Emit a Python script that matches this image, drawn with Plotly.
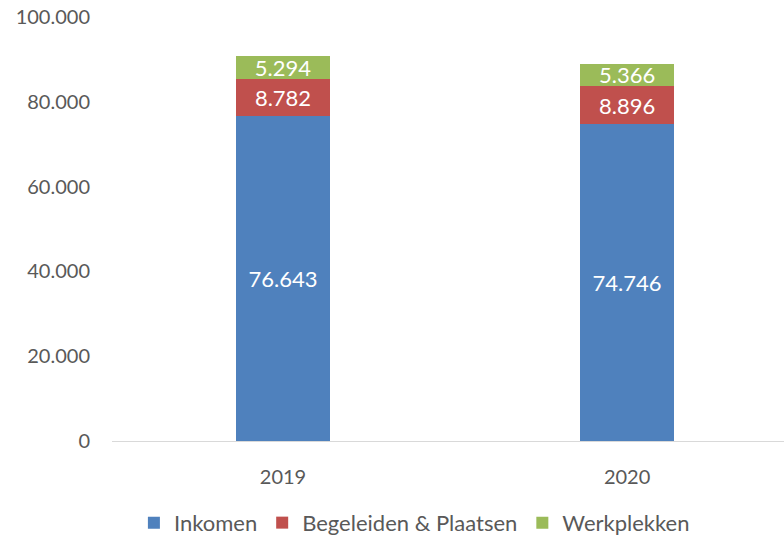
import plotly.graph_objects as go

years = ["2019", "2020"]
inkomen = [76643, 74746]
begeleiden = [8782, 8896]
werkplekken = [5294, 5366]

series = [
    ("Inkomen", inkomen, "#4F81BD"),
    ("Begeleiden & Plaatsen", begeleiden, "#C0504D"),
    ("Werkplekken", werkplekken, "#9BBB59"),
]

FONT = "Lato"

fig = go.Figure()
for name, vals, col in series:
    fig.add_trace(go.Bar(
        x=years, y=vals, name=name, marker_color=col, marker_line_width=0,
        width=0.273, texttemplate="%{y:,d}", textposition="inside",
        insidetextanchor="middle", textangle=0, constraintext="none",
        textfont=dict(color="white", size=22, family=FONT),
    ))

fig.update_layout(
    barmode="stack",
    separators=",.",
    width=784, height=538,
    margin=dict(l=112, r=0, t=17, b=97, autoexpand=False),
    plot_bgcolor="white", paper_bgcolor="white",
    font=dict(family=FONT, color="#595959", size=21),
    legend=dict(orientation="h", x=0.45, xanchor="center", y=-0.193, yanchor="middle",
                font=dict(size=22, color="#595959", family=FONT), traceorder="normal",
                itemwidth=30),
    xaxis=dict(type="category", range=[-0.497, 1.456], showline=True, linecolor="#d9d9d9",
               linewidth=1, ticks="", ticklabelstandoff=18, tickfont=dict(size=20)),
    yaxis=dict(range=[0, 100000], dtick=20000, tickformat=",d", showgrid=False,
               zeroline=False, showline=False, ticklabelstandoff=21,
               tickfont=dict(size=20)),
)

fig.write_html("out.html")
